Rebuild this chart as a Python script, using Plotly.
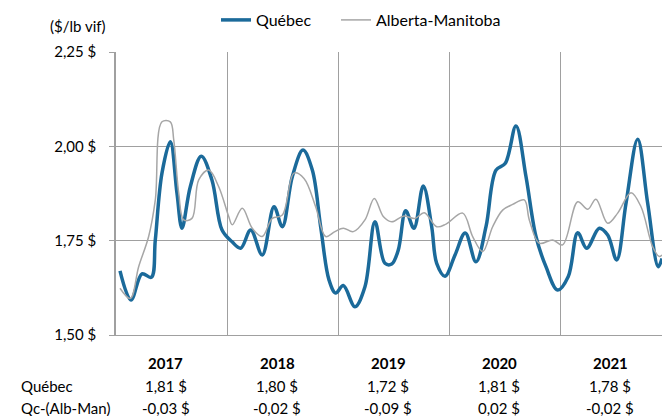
import plotly.graph_objects as go

# Québec (decimal year, $/lb vif)
qc_t = [2017.036, 2017.135, 2017.234, 2017.318, 2017.354, 2017.414, 2017.489, 2017.549, 2017.594,
        2017.669, 2017.768, 2017.864, 2017.955, 2018.045, 2018.123, 2018.213, 2018.317, 2018.423,
        2018.498, 2018.588, 2018.684, 2018.768, 2018.843, 2018.918, 2018.978, 2019.047, 2019.152,
        2019.242, 2019.332, 2019.422, 2019.483, 2019.542, 2019.609, 2019.683, 2019.767, 2019.843,
        2019.888, 2019.963, 2020.053, 2020.145, 2020.242, 2020.332, 2020.422, 2020.506, 2020.602,
        2020.692, 2020.782, 2020.872, 2020.977, 2021.073, 2021.158, 2021.239, 2021.352, 2021.428,
        2021.509, 2021.593, 2021.698, 2021.788, 2021.883, 2021.917]
qc_v = [1.670, 1.593, 1.662, 1.653, 1.752, 1.929, 2.012, 1.876, 1.783,
        1.893, 1.974, 1.911, 1.778, 1.747, 1.730, 1.778, 1.712, 1.840,
        1.787, 1.920, 1.990, 1.937, 1.787, 1.646, 1.611, 1.631, 1.575,
        1.628, 1.800, 1.690, 1.688, 1.725, 1.829, 1.783, 1.895, 1.787,
        1.690, 1.656, 1.712, 1.770, 1.694, 1.787, 1.937, 1.955, 2.054,
        1.920, 1.761, 1.681, 1.619, 1.655, 1.771, 1.730, 1.783, 1.765,
        1.699, 1.849, 2.019, 1.849, 1.681, 1.703]

# Alberta-Manitoba
am_t = [2017.036, 2017.129, 2017.204, 2017.294, 2017.354, 2017.414, 2017.489, 2017.520, 2017.565,
        2017.610, 2017.684, 2017.745, 2017.835, 2017.925, 2018.015, 2018.047, 2018.137, 2018.227,
        2018.317, 2018.407, 2018.498, 2018.603, 2018.693, 2018.798, 2018.888, 2018.972, 2019.047,
        2019.137, 2019.242, 2019.326, 2019.407, 2019.483, 2019.587, 2019.692, 2019.776, 2019.888,
        2019.972, 2020.122, 2020.212, 2020.302, 2020.392, 2020.482, 2020.572, 2020.677, 2020.722,
        2020.812, 2020.932, 2021.022, 2021.158, 2021.248, 2021.322, 2021.428, 2021.518, 2021.638,
        2021.728, 2021.833, 2021.893, 2021.917]
am_v = [1.624, 1.597, 1.681, 1.761, 1.858, 2.065, 2.065, 2.017, 1.876,
        1.805, 1.809, 1.911, 1.937, 1.893, 1.814, 1.792, 1.836, 1.783,
        1.761, 1.809, 1.818, 1.929, 1.915, 1.840, 1.761, 1.774, 1.783,
        1.774, 1.805, 1.862, 1.814, 1.800, 1.815, 1.809, 1.824, 1.787,
        1.794, 1.823, 1.761, 1.721, 1.787, 1.831, 1.846, 1.858, 1.805,
        1.743, 1.752, 1.739, 1.853, 1.833, 1.860, 1.796, 1.823, 1.877,
        1.840, 1.734, 1.708, 1.712]

years = ["2017", "2018", "2019", "2020", "2021"]
qc_avg = ["1,81 $", "1,80 $", "1,72 $", "1,81 $", "1,78 $"]
qc_diff = ["-0,03 $", "-0,02 $", "-0,09 $", "0,02 $", "-0,02 $"]
y_ticks = [1.50, 1.75, 2.00, 2.25]
y_tick_text = ["1,50 $", "1,75 $", "2,00 $", "2,25 $"]

FONT = "Lato"
FS = 15
BLUE = "#1b6a9a"
GRAY = "#a6a6a6"
GRID = "#a0a0a0"

fig = go.Figure()
fig.add_trace(go.Scatter(x=qc_t, y=qc_v, mode="lines", name="Québec", legend="legend",
                         line=dict(color=BLUE, width=3.5, shape="spline", smoothing=1.0)))
fig.add_trace(go.Scatter(x=am_t, y=am_v, mode="lines", name="Alberta-Manitoba", legend="legend2",
                         line=dict(color=GRAY, width=1.5, shape="spline", smoothing=1.0)))

ann = []
ann.append(dict(text="($/lb vif)", xref="paper", yref="paper", x=-0.07, y=1.092,
                showarrow=False, xanchor="center", yanchor="middle",
                font=dict(family=FONT, size=FS, color="#000")))
for i, yr in enumerate(years):
    xc = int(yr) + 0.45
    ann.append(dict(text="<b>%s</b>" % yr, x=xc, xref="x", y=-0.099, yref="paper",
                    showarrow=False, xanchor="center", yanchor="middle",
                    font=dict(family=FONT, size=FS, color="#000")))
    ann.append(dict(text=qc_avg[i], x=xc, xref="x", y=-0.18, yref="paper",
                    showarrow=False, xanchor="center", yanchor="middle",
                    font=dict(family=FONT, size=FS, color="#000")))
    ann.append(dict(text=qc_diff[i], x=xc, xref="x", y=-0.257, yref="paper",
                    showarrow=False, xanchor="center", yanchor="middle",
                    font=dict(family=FONT, size=FS, color="#000")))
for lab, yy in [("Québec", -0.18), ("Qc-(Alb-Man)", -0.257)]:
    ann.append(dict(text=lab, x=-0.178, xref="paper", y=yy, yref="paper",
                    showarrow=False, xanchor="left", yanchor="middle",
                    font=dict(family=FONT, size=FS, color="#000")))

leg_common = dict(orientation="h", xref="container", yref="container",
                  xanchor="left", y=1 - 20 / 416, yanchor="middle",
                  font=dict(family=FONT, size=16, color="#000"), bgcolor="rgba(0,0,0,0)",
                  itemwidth=30)

fig.update_layout(
    width=662, height=416,
    margin=dict(l=116, r=0, t=52, b=81, autoexpand=False),
    paper_bgcolor="white", plot_bgcolor="white",
    font=dict(family=FONT, size=FS, color="#000"),
    showlegend=True,
    legend=dict(x=216 / 662, **leg_common),
    legend2=dict(x=336 / 662, **leg_common),
    annotations=ann,
    xaxis=dict(range=[2017, 2021.917], tickvals=[2017, 2018, 2019, 2020, 2021],
               showticklabels=False, showgrid=True, gridcolor=GRID, gridwidth=1,
               showline=True, linecolor=GRID, linewidth=1, zeroline=False, ticks="",
               automargin=False),
    yaxis=dict(range=[1.5, 2.25], tickvals=y_ticks, ticktext=y_tick_text,
               showgrid=True, gridcolor=GRID, gridwidth=1,
               showline=True, linecolor=GRID, linewidth=1.5, zeroline=False,
               ticks="outside", ticklen=5, tickcolor=GRID, ticklabelstandoff=10,
               automargin=False,
               tickfont=dict(family=FONT, size=FS, color="#000")),
)

fig.write_html("out.html", config={"displayModeBar": False},
               post_script="document.body.style.margin='0';document.body.style.padding='0';")
